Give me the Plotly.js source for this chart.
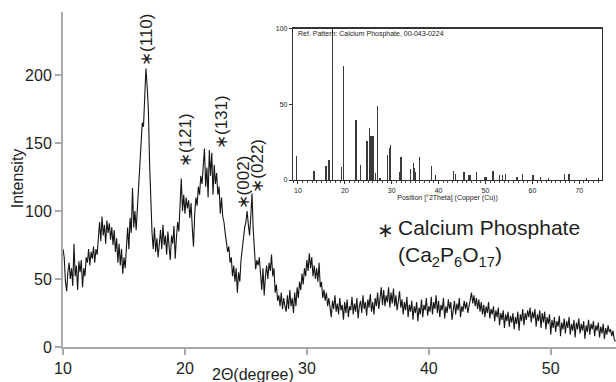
<!DOCTYPE html>
<html>
<head>
<meta charset="utf-8">
<script src="https://cdn.plot.ly/plotly-3.0.1.min.js"></script>
<style>
  html, body { margin: 0; padding: 0; background: #fff; }
  #chart { width: 616px; height: 382px; }
</style>
</head>
<body>
<div id="chart"></div>
<script>
// XRD scan: 2-theta from 10.0 deg in 0.1 deg steps
const scanStart = 10.0;
const scanStep = 0.1;
const intensity = [
  72, 66, 48, 41, 55, 62, 50, 58, 45, 76,      // 10
  52, 60, 42, 63, 55, 64, 44, 58, 52, 66,      // 11
  62, 72, 60, 70, 65, 74, 62, 72, 68, 80,      // 12
  92, 78, 96, 82, 90, 76, 93, 84, 91, 79,      // 13
  88, 75, 86, 70, 80, 62, 76, 60, 72, 54,      // 14
  66, 58, 78, 88, 72, 95, 84, 117, 88, 100,    // 15
  86, 104, 118, 130, 148, 165, 162, 185, 205, 192, // 16
  175, 135, 102, 84, 72, 88, 70, 80, 66, 78,   // 17
  86, 72, 90, 75, 82, 68, 85, 74, 64, 82,      // 18
  76, 89, 65, 80, 92, 85, 104, 124, 100, 112,  // 19
  98, 110, 102, 108, 95, 106, 88, 74, 98, 110, // 20
  104, 118, 112, 126, 120, 134, 146, 118, 132, 110, // 21
  145, 126, 143, 112, 134, 120, 128, 112, 118, 98,  // 22
  110, 96, 92, 84, 78, 70, 74, 62, 66, 52,     // 23
  60, 48, 58, 40, 55, 48, 64, 74, 82, 88,      // 24
  92, 100, 90, 82, 96, 113, 86, 70, 57, 64,    // 25
  60, 66, 54, 42, 58, 38, 52, 60, 50, 62,      // 26
  56, 68, 52, 58, 40, 46, 34, 38, 30, 40,      // 27
  28, 36, 30, 26, 38, 28, 42, 30, 36, 25,      // 28
  40, 30, 44, 36, 48, 42, 54, 46, 58, 52,      // 29
  64, 56, 69, 58, 66, 52, 60, 50, 58, 48,      // 30
  62, 44, 48, 36, 42, 34, 40, 30, 36, 26,      // 31
  22, 34, 28, 38, 26, 32, 24, 36, 27, 31,      // 32
  20, 33, 25, 35, 22, 30, 27, 37, 24, 32,      // 33
  26, 36, 21, 30, 34, 25, 38, 28, 33, 23,      // 34
  35, 29, 39, 26, 33, 24, 36, 30, 40, 28,      // 35
  35, 44, 31, 42, 30, 38, 33, 44, 29, 40,      // 36
  32, 43, 30, 38, 27, 36, 41, 29, 35, 24,      // 37
  33, 27, 37, 22, 31, 26, 34, 20, 30, 25,      // 38
  33, 19, 29, 24, 35, 22, 31, 27, 36, 23,      // 39
  30, 26, 37, 24, 33, 28, 38, 25, 34, 22,      // 40
  31, 27, 36, 21, 30, 25, 35, 28, 33, 20,      // 41
  29, 34, 24, 32, 27, 36, 22, 30, 26, 34,      // 42
  28, 33, 25, 31, 36, 40, 32, 38, 30, 36,      // 43
  28, 35, 26, 33, 24, 31, 22, 30, 25, 33,      // 44
  21, 28, 24, 30, 19, 27, 22, 29, 16, 25,      // 45
  20, 27, 14, 24, 19, 26, 15, 23, 18, 25,      // 46
  13, 22, 17, 26, 12, 24, 19, 28, 16, 25,      // 47
  20, 27, 22, 29, 18, 26, 21, 28, 15, 24,      // 48
  19, 27, 14, 25, 18, 26, 13, 22, 17, 24,      // 49
  9, 20, 14, 22, 11, 19, 15, 23, 8, 18,        // 50
  13, 21, 10, 19, 14, 22, 9, 17, 12, 20,       // 51
  7, 18, 13, 21, 10, 17, 12, 19, 6, 16,        // 52
  11, 20, 9, 17, 13, 19, 8, 16, 12, 18,        // 53
  7, 15, 10, 17, 6, 14, 9, 16, 11, 13,         // 54
  8, 12, 6, 4                                  // 55
];
const twoTheta = intensity.map((_, i) => +(scanStart + i * scanStep).toFixed(2));

// Reference pattern 00-043-0224 (stick positions and relative intensities)
const refPos = [9.7, 13.4, 16.0, 16.6, 17.3, 19.3, 19.7, 22.4, 23.3, 24.7, 25.2, 25.6, 26.0, 26.5,
  26.9, 27.5, 29.1, 29.5, 29.7, 31.6, 32.0, 34.0, 34.6, 34.9, 35.1, 35.9, 38.5, 39.4, 43.2, 43.6,
  45.4, 46.5, 46.8, 48.1, 49.8, 50.1, 51.6, 53.0, 53.6, 54.2, 56.7, 57.9, 60.0, 60.3, 61.7, 63.5,
  66.8, 67.8, 71.5, 74.1];
const refInt = [16, 6, 9.4, 13, 100, 8.8, 75, 39.5, 10, 26, 34, 29, 29, 4.5,
  49, 1.5, 16.4, 21, 23, 5.5, 15, 7, 11, 8, 5, 15, 9, 3.3, 6, 4,
  5, 3, 3, 5, 2, 2, 6, 3, 3, 4, 2, 4, 3, 3, 2, 1.5,
  4, 4, 1.5, 1];

// Peak labels: Miller indices with the peak they mark
const peakHkl = ['(110)', '(121)', '(131)', '(002)', '(022)'];
const peakLabelX = [16.8, 20.0, 22.94, 24.78, 25.93];
const peakLabelY = [206, 131.6, 144.8, 100.7, 113];

const mainTicks = [0, 50, 100, 150, 200];
const mainXTicks = [10, 20, 30, 40, 50];
const insetYTicks = [0, 50, 100];
const insetXTicks = [10, 20, 30, 40, 50, 60, 70];

const FONT = 'Arial, "Liberation Sans", sans-serif';
const INK = '#1e1e1e';
const AXIS_GREY = '#a8a8a8';

const traces = [
  {
    x: twoTheta, y: intensity, type: 'scatter', mode: 'lines',
    line: { color: '#151515', width: 1.1 },
    xaxis: 'x', yaxis: 'y', hoverinfo: 'skip'
  },
  {
    x: refPos, y: refInt, type: 'bar', width: 0.28,
    marker: { color: '#3a3a3a', line: { width: 0 } },
    xaxis: 'x2', yaxis: 'y2', hoverinfo: 'skip'
  }
];

const annotations = [];
peakHkl.forEach((hkl, i) => {
  annotations.push({
    x: peakLabelX[i], y: peakLabelY[i], xref: 'x', yref: 'y',
    text: '<span style="font-size:17px">∗</span>' + hkl,
    textangle: -90, showarrow: false, xanchor: 'center', yanchor: 'bottom',
    font: { family: FONT, size: 17, color: INK }, borderpad: 0
  });
});

// legend-style note
annotations.push({
  x: 0.584, y: 0.349, xref: 'paper', yref: 'paper',
  text: '∗', showarrow: false, xanchor: 'center', yanchor: 'middle',
  font: { family: FONT, size: 20, color: INK }
});
annotations.push({
  x: 0.604, y: 0.394, xref: 'paper', yref: 'paper',
  text: 'Calcium Phosphate<br>(Ca<sub>2</sub>P<sub>6</sub>O<sub>17</sub>)',
  showarrow: false, xanchor: 'left', yanchor: 'top', align: 'left',
  font: { family: FONT, size: 21, color: INK }, borderpad: 0
});

// axis titles
annotations.push({
  x: 0.3427, y: -0.082, xref: 'paper', yref: 'paper',
  text: '2Θ(degree)', showarrow: false, xanchor: 'center', yanchor: 'middle',
  font: { family: FONT, size: 16, color: INK }, borderpad: 0
});
annotations.push({
  x: -0.083, y: 0.504, xref: 'paper', yref: 'paper',
  text: 'Intensity', textangle: -90, showarrow: false, xanchor: 'center', yanchor: 'middle',
  font: { family: FONT, size: 16, color: INK }
});

// reference pattern caption
annotations.push({
  x: 0.012, y: 0.995, xref: 'x2 domain', yref: 'y2 domain',
  text: 'Ref. Pattern: Calcium Phosphate, 00-043-0224', showarrow: false,
  xanchor: 'left', yanchor: 'top',
  font: { family: FONT, size: 7, color: '#222' }, borderpad: 0
});

const layout = {
  width: 616, height: 382,
  margin: { l: 63, r: 0, t: 12, b: 35 },
  paper_bgcolor: '#fff', plot_bgcolor: '#fff',
  showlegend: false,
  xaxis: {
    domain: [0, 1], range: [10, 55.35], tickvals: mainXTicks,
    showgrid: false, zeroline: false,
    showline: true, linecolor: AXIS_GREY, linewidth: 2,
    ticks: 'outside', ticklen: 6, tickwidth: 2, tickcolor: AXIS_GREY,
    tickfont: { family: FONT, size: 16, color: INK }
  },
  yaxis: {
    domain: [0, 1], range: [0, 246.5], tickvals: mainTicks,
    showgrid: false, zeroline: false,
    showline: true, linecolor: AXIS_GREY, linewidth: 2,
    ticks: 'outside', ticklen: 6, tickwidth: 2, tickcolor: AXIS_GREY,
    tickfont: { family: FONT, size: 16, color: INK }
  },
  xaxis2: {
    domain: [0.416, 0.9747], anchor: 'y2', range: [8.95, 74.85],
    tickvals: insetXTicks, showgrid: false, zeroline: false,
    showline: true, mirror: true, linecolor: '#333', linewidth: 1.2,
    ticks: 'outside', ticklen: 3, tickwidth: 1, tickcolor: '#333',
    minor: { dtick: 1, ticks: 'outside', ticklen: 1.5, tickcolor: '#444' },
    tickfont: { family: FONT, size: 7, color: '#222' },
    title: { text: 'Position [°2Theta] (Copper (Cu))', standoff: 2,
             font: { family: FONT, size: 7, color: '#222' } }
  },
  yaxis2: {
    domain: [0.4985, 0.9507], anchor: 'x2', range: [0, 100],
    tickvals: insetYTicks, showgrid: false, zeroline: false,
    showline: true, mirror: true, linecolor: '#333', linewidth: 1.2,
    ticks: 'outside', ticklen: 3, tickwidth: 1, tickcolor: '#333',
    tickfont: { family: FONT, size: 7, color: '#222' }
  },
  bargap: 0,
  annotations: annotations
};

Plotly.newPlot('chart', traces, layout, { staticPlot: true, displayModeBar: false });
</script>
</body>
</html>
